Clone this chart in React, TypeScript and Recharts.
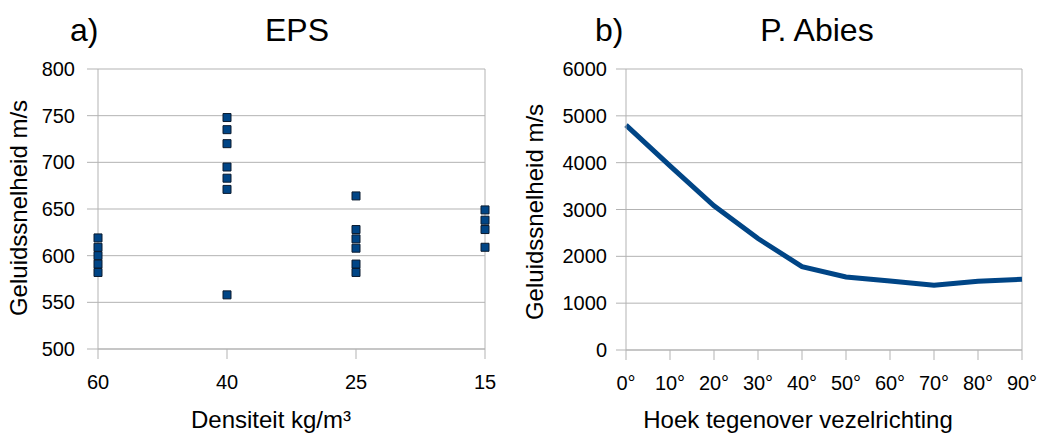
import React from "react";
import {
  ScatterChart,
  Scatter,
  LineChart,
  Line,
  XAxis,
  YAxis,
  ZAxis,
  CartesianGrid,
  ReferenceLine,
} from "recharts";

// a) EPS: sound speed per density class
const densityLabels = ["60", "40", "25", "15"];
const eps60 = [619, 609, 600, 591, 582];
const eps40 = [748, 735, 720, 695, 683, 671, 558];
const eps25 = [664, 628, 618, 608, 591, 582];
const eps15 = [649, 638, 628, 609];
const epsTicks = [500, 550, 600, 650, 700, 750, 800];

// b) P. Abies: sound speed vs. angle to the grain
const angleLabels = ["0°", "10°", "20°", "30°", "40°", "50°", "60°", "70°", "80°", "90°"];
const abiesSpeed = [4800, 3930, 3080, 2380, 1780, 1560, 1475, 1385, 1470, 1510];
const abiesTicks = [0, 1000, 2000, 3000, 4000, 5000, 6000];

const BLUE = "#004586";
const GRID = "#b3b3b3";
const FONT = '"Liberation Sans", Arial, sans-serif';

const epsData = [eps60, eps40, eps25, eps15].flatMap((vals, i) =>
  vals.map((v) => ({ x: i, y: v }))
);
const abiesData = angleLabels.map((a, i) => ({ angle: a, speed: abiesSpeed[i] }));

const tickStyle = { fill: "#000", fontSize: 20, fontFamily: FONT };

export default function App() {
  return (
    <div style={{ position: "relative", width: 1039, height: 434, background: "#fff" }}>
      <style>{`body{margin:0}`}</style>

      <div style={{ position: "absolute", left: 0, top: 0 }}>
        <ScatterChart width={520} height={434} margin={{ top: 69, right: 35, bottom: 45, left: 0 }}>
          <CartesianGrid vertical={false} stroke={GRID} />
          <XAxis
            type="number"
            dataKey="x"
            domain={[0, 3]}
            ticks={[0, 1, 2, 3]}
            tickFormatter={(i: number) => densityLabels[i]}
            height={40}
            stroke={GRID}
            tickSize={10}
            tickMargin={16}
            tick={tickStyle}
          />
          <YAxis
            type="number"
            dataKey="y"
            domain={[500, 800]}
            ticks={epsTicks}
            width={98}
            stroke={GRID}
            tickSize={11}
            tickMargin={12}
            tick={tickStyle}
          />
          <ZAxis range={[81, 81]} />
          <ReferenceLine x={3} stroke={GRID} />
          <Scatter
            data={epsData}
            shape="square"
            fill={BLUE}
            stroke="#0a1a2e"
            strokeWidth={1}
            isAnimationActive={false}
          />
        </ScatterChart>
      </div>

      <div style={{ position: "absolute", left: 520, top: 0 }}>
        <LineChart width={519} height={434} data={abiesData} margin={{ top: 69, right: 17, bottom: 44, left: 0 }}>
          <CartesianGrid vertical={false} stroke={GRID} />
          <XAxis
            dataKey="angle"
            height={40}
            stroke={GRID}
            tickSize={10}
            tickMargin={16}
            tick={tickStyle}
            interval={0}
          />
          <YAxis
            domain={[0, 6000]}
            ticks={abiesTicks}
            width={106}
            stroke={GRID}
            tickSize={10}
            tickMargin={9}
            tick={tickStyle}
          />
          <ReferenceLine x="90°" stroke={GRID} />
          <Line
            dataKey="speed"
            stroke={BLUE}
            strokeWidth={5}
            dot={false}
            isAnimationActive={false}
          />
        </LineChart>
      </div>

      <svg
        width={1039}
        height={434}
        style={{ position: "absolute", left: 0, top: 0, pointerEvents: "none" }}
        fontFamily={FONT}
      >
        <text x={70} y={41} fontSize={32} fill="#000">a)</text>
        <text x={297} y={41} fontSize={32} fill="#000" textAnchor="middle">EPS</text>
        <text x={595} y={41} fontSize={32} fill="#000">b)</text>
        <text x={817} y={41} fontSize={32} fill="#000" textAnchor="middle">P. Abies</text>
        <text
          x={0}
          y={0}
          fontSize={24}
          fill="#000"
          textAnchor="middle"
          transform="translate(27 208) rotate(-90)"
        >
          Geluidssnelheid m/s
        </text>
        <text x={271} y={428} fontSize={24} fill="#000" textAnchor="middle">Densiteit kg/m³</text>
        <text
          x={0}
          y={0}
          fontSize={24}
          fill="#000"
          textAnchor="middle"
          transform="translate(543 212) rotate(-90)"
        >
          Geluidssnelheid m/s
        </text>
        <text x={798} y={428} fontSize={24} fill="#000" textAnchor="middle">Hoek tegenover vezelrichting</text>
      </svg>
    </div>
  );
}
